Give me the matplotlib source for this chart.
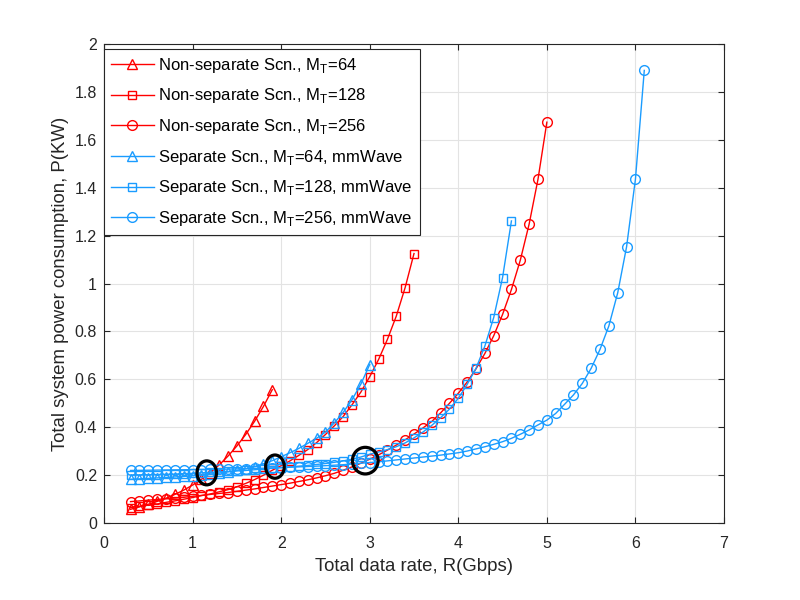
import matplotlib
matplotlib.use('Agg')
import matplotlib.pyplot as plt
from matplotlib.patches import Ellipse
from matplotlib.ticker import FormatStrFormatter
import numpy as np

plt.rcParams['font.family'] = ['Liberation Sans', 'DejaVu Sans']
plt.rcParams['mathtext.fontset'] = 'custom'
plt.rcParams['mathtext.rm'] = 'Liberation Sans'

# data rate axis for each curve (Gbps)
rate_ns64 = np.round(np.arange(0.3, 1.95, 0.1), 1)
rate_ns128 = np.round(np.arange(0.3, 3.55, 0.1), 1)
rate_ns256 = np.round(np.arange(0.3, 5.05, 0.1), 1)
rate_s64 = np.round(np.arange(0.3, 3.05, 0.1), 1)
rate_s128 = np.round(np.arange(0.3, 4.65, 0.1), 1)
rate_s256 = np.round(np.arange(0.3, 6.15, 0.1), 1)

# power consumption (KW)
p_ns64 = [0.058, 0.068, 0.079, 0.091, 0.104, 0.12, 0.138, 0.159, 0.183, 0.211,
          0.243, 0.28, 0.322, 0.37, 0.425, 0.487, 0.557]
p_ns128 = [0.065, 0.07, 0.075, 0.08, 0.087, 0.093, 0.1, 0.107, 0.115, 0.122,
           0.131, 0.14, 0.152, 0.166, 0.182, 0.2, 0.221, 0.24, 0.26, 0.283,
           0.307, 0.336, 0.37, 0.406, 0.445, 0.494, 0.547, 0.611, 0.683, 0.767,
           0.864, 0.983, 1.125]
p_ns256 = [0.09, 0.093, 0.096, 0.099, 0.102, 0.105, 0.108, 0.112, 0.116, 0.12,
           0.124, 0.128, 0.133, 0.138, 0.143, 0.149, 0.155, 0.161, 0.167, 0.174,
           0.181, 0.189, 0.198, 0.208, 0.221, 0.235, 0.25, 0.267, 0.285, 0.305,
           0.326, 0.348, 0.372, 0.397, 0.424, 0.46, 0.5, 0.542, 0.589, 0.644,
           0.708, 0.782, 0.871, 0.975, 1.097, 1.248, 1.435, 1.673]
p_s64 = [0.183, 0.185, 0.187, 0.189, 0.191, 0.193, 0.195, 0.198, 0.201, 0.205,
         0.209, 0.214, 0.22, 0.227, 0.236, 0.247, 0.261, 0.277, 0.294, 0.312,
         0.333, 0.354, 0.38, 0.418, 0.462, 0.515, 0.58, 0.662]
p_s128 = [0.2, 0.201, 0.202, 0.203, 0.204, 0.205, 0.207, 0.208, 0.21, 0.212,
          0.214, 0.216, 0.218, 0.22, 0.223, 0.226, 0.229, 0.232, 0.235, 0.238,
          0.241, 0.245, 0.249, 0.254, 0.26, 0.267, 0.276, 0.288, 0.297, 0.307,
          0.319, 0.335, 0.356, 0.38, 0.408, 0.44, 0.476, 0.521, 0.579, 0.646,
          0.739, 0.858, 1.025, 1.261]
p_s256 = [0.22, 0.2205, 0.221, 0.2215, 0.222, 0.2225, 0.223, 0.2235, 0.224, 0.2245,
          0.225, 0.2257, 0.2265, 0.2275, 0.2285, 0.2295, 0.2305, 0.232, 0.2335, 0.235,
          0.2365, 0.238, 0.24, 0.242, 0.244, 0.247, 0.25, 0.253, 0.256, 0.26,
          0.264, 0.268, 0.272, 0.276, 0.28, 0.284, 0.289, 0.294, 0.301, 0.31,
          0.319, 0.329, 0.34, 0.354, 0.371, 0.389, 0.41, 0.43, 0.458, 0.496,
          0.535, 0.583, 0.646, 0.725, 0.823, 0.961, 1.153, 1.435, 1.889]

# crossing points marked with black ellipses: (x, y, width, height)
crossings = [(1.16, 0.21, 0.22, 0.10),
             (1.93, 0.236, 0.21, 0.097),
             (2.95, 0.261, 0.29, 0.111)]

red = '#ff0000'
blue = '#1a9cff'

fig = plt.figure(figsize=(8, 6), dpi=100)
ax = fig.add_axes([0.13, 0.128, 0.775, 0.799])

curves = [
    (rate_ns64, p_ns64, red, '^', 7, r'Non-separate Scn., M$_\mathregular{T}$=64'),
    (rate_ns128, p_ns128, red, 's', 5.5, r'Non-separate Scn., M$_\mathregular{T}$=128'),
    (rate_ns256, p_ns256, red, 'o', 7, r'Non-separate Scn., M$_\mathregular{T}$=256'),
    (rate_s64, p_s64, blue, '^', 7, r'Separate Scn., M$_\mathregular{T}$=64, mmWave'),
    (rate_s128, p_s128, blue, 's', 5.5, r'Separate Scn., M$_\mathregular{T}$=128, mmWave'),
    (rate_s256, p_s256, blue, 'o', 7, r'Separate Scn., M$_\mathregular{T}$=256, mmWave'),
]
for x, y, c, m, ms, lab in curves:
    ax.plot(x, y, color=c, marker=m, ms=ms, mfc='none', mew=1.0, lw=1.0, label=lab)

for cx, cy, w, h in crossings:
    ax.add_patch(Ellipse((cx, cy), w, h, fill=False, ec='black', lw=2.3, zorder=5))

ax.set_xlim(0, 7)
ax.set_ylim(0, 2)
ax.set_xticks(np.arange(0, 8, 1))
ax.set_yticks(np.arange(0, 2.01, 0.2))
ax.yaxis.set_major_formatter(FormatStrFormatter('%g'))
ax.grid(True, color='#e3e3e3', lw=0.8)
ax.set_axisbelow(True)
ax.tick_params(direction='in', top=True, right=True, length=4, width=0.8,
               labelsize=11.5, colors='#262626')
ax.tick_params(axis='x', pad=9)
ax.tick_params(axis='y', pad=5)
for s in ax.spines.values():
    s.set_color('#262626')
    s.set_linewidth(0.8)

ax.set_xlabel('Total data rate, R(Gbps)', fontsize=13.4, color='#262626', labelpad=5)
ax.set_ylabel('Total system power consumption, P(KW)', fontsize=13.4, color='#262626', labelpad=4)

leg = ax.legend(loc='upper left', bbox_to_anchor=(0, 1 - 5 / 479), fontsize=12,
                fancybox=False, framealpha=1, edgecolor='#262626',
                handlelength=2.55, borderaxespad=0, labelspacing=0.7,
                handletextpad=0.3, borderpad=0.42)
leg.get_frame().set_linewidth(0.8)

fig.savefig('out.png', dpi=100)
